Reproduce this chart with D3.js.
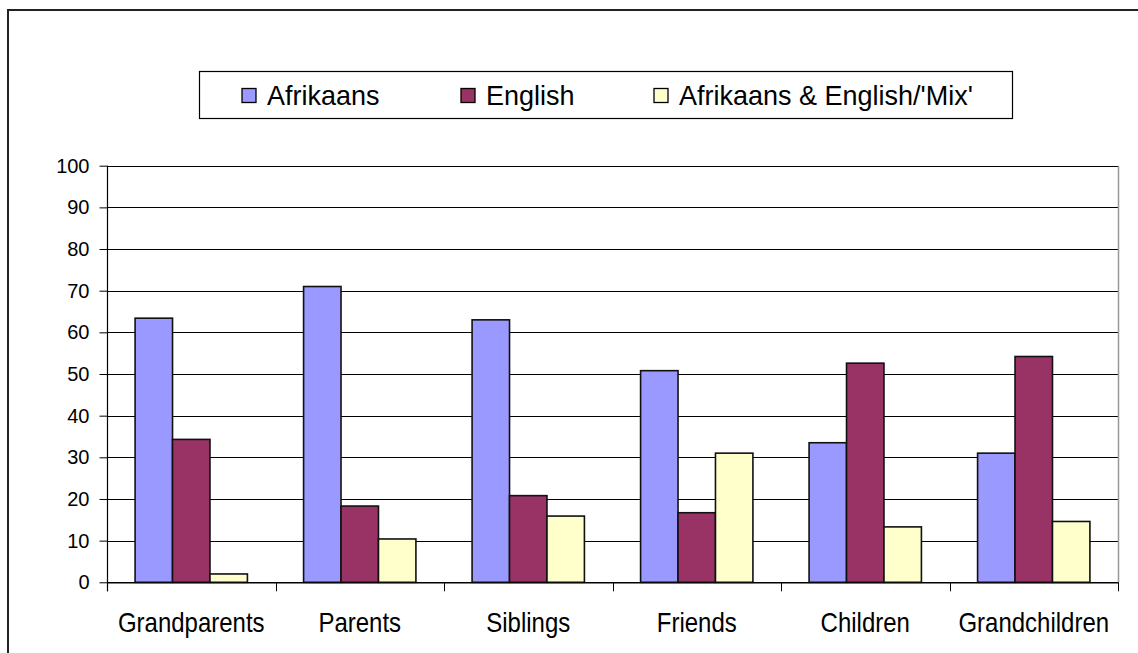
<!DOCTYPE html>
<html>
<head>
<meta charset="utf-8">
<script src="https://cdn.jsdelivr.net/npm/d3@7"></script>
<style>
  html, body { margin: 0; padding: 0; background: #fff; }
  svg { display: block; font-family: "Liberation Sans", Arial, sans-serif; }
</style>
</head>
<body>
<svg id="chart" width="1138" height="653"></svg>
<script>
const categories = ["Grandparents", "Parents", "Siblings", "Friends", "Children", "Grandchildren"];
const seriesNames = ["Afrikaans", "English", "Afrikaans & English/'Mix'"];
const afrikaans = [63.4, 71.0, 63.0, 50.8, 33.5, 31.0];
const english = [34.3, 18.3, 20.8, 16.7, 52.6, 54.2];
const mix = [2.0, 10.4, 15.9, 31.0, 13.3, 14.6];
const yTicks = [0, 10, 20, 30, 40, 50, 60, 70, 80, 90, 100];
const colors = ["#9999FF", "#993366", "#FFFFCC"];

const seriesValues = [afrikaans, english, mix];

const svg = d3.select("#chart");
const plot = { left: 107, right: 1118, top: 165.7, bottom: 582.3 };

// outer chart border
svg.append("rect")
  .attr("x", 8).attr("y", 10)
  .attr("width", 1200).attr("height", 700)
  .attr("fill", "#fff").attr("stroke", "#222").attr("stroke-width", 2);

const x0 = d3.scaleBand().domain(categories).range([plot.left, plot.right]).paddingInner(0).paddingOuter(0);
const bw = x0.bandwidth();
const gap = bw * 1.5 / 4.5;
const x1 = d3.scaleBand().domain(seriesNames).range([gap / 2, bw - gap / 2]);
const y = d3.scaleLinear().domain([0, 100]).range([plot.bottom, plot.top]);

// gridlines
svg.append("g")
  .selectAll("line")
  .data(yTicks)
  .join("line")
  .attr("x1", plot.left).attr("x2", plot.right)
  .attr("y1", d => Math.round(y(d)) + 0.5).attr("y2", d => Math.round(y(d)) + 0.5)
  .attr("stroke", "#000").attr("stroke-width", 1);

// right plot border
svg.append("line")
  .attr("x1", plot.right + 0.5).attr("x2", plot.right + 0.5)
  .attr("y1", plot.top).attr("y2", plot.bottom)
  .attr("stroke", "#999").attr("stroke-width", 1.5);

// bars
const groups = svg.append("g").selectAll("g")
  .data(categories)
  .join("g")
  .attr("transform", c => `translate(${x0(c)},0)`);

groups.selectAll("rect")
  .data((c, i) => seriesNames.map((s, k) => ({ s, k, v: seriesValues[k][i] })))
  .join("rect")
  .attr("x", d => x1(d.s))
  .attr("width", x1.bandwidth())
  .attr("y", d => y(d.v))
  .attr("height", d => y(0) - y(d.v))
  .attr("fill", d => colors[d.k])
  .attr("stroke", "#111")
  .attr("stroke-width", 1.6);

// y axis
const yAxis = d3.axisLeft(y).tickValues(yTicks).tickSize(8).tickPadding(10).tickSizeOuter(0);
const gy = svg.append("g").attr("transform", `translate(${plot.left + 0.5},0)`).call(yAxis);
gy.select(".domain").attr("stroke", "#000").attr("stroke-width", 1.2)
  .attr("d", `M0,${plot.top}V${plot.bottom + 9}`);
gy.selectAll(".tick line").attr("stroke", "#000").attr("stroke-width", 1);
gy.selectAll(".tick text").attr("font-size", 20).attr("fill", "#000")
  .attr("font-family", "'Liberation Sans', Arial, sans-serif");

// x axis line & boundary ticks
const xAxis = d3.axisBottom(x0).tickSize(0).tickFormat(() => "");
const gx = svg.append("g").attr("transform", `translate(0,${Math.round(plot.bottom) + 0.5})`).call(xAxis);
gx.select(".domain").attr("stroke", "#000").attr("stroke-width", 1.2);
const bounds = categories.map(c => x0(c)).concat([plot.right]);
svg.append("g").selectAll("line")
  .data(bounds)
  .join("line")
  .attr("x1", d => Math.round(d) + 0.5).attr("x2", d => Math.round(d) + 0.5)
  .attr("y1", plot.bottom).attr("y2", plot.bottom + 9)
  .attr("stroke", "#000").attr("stroke-width", 1);

// category labels
svg.append("g").selectAll("text")
  .data(categories)
  .join("text")
  .attr("transform", c => `translate(${x0(c) + bw / 2},632) scale(1,1.15)`)
  .attr("text-anchor", "middle")
  .attr("font-size", 24)
  .attr("fill", "#000")
  .text(c => c);

// legend
const legend = svg.append("g");
legend.append("rect")
  .attr("x", 199.5).attr("y", 71.5)
  .attr("width", 813).attr("height", 47)
  .attr("fill", "#fff").attr("stroke", "#000").attr("stroke-width", 1.2);
const legendX = [242, 461, 654];
const items = legend.selectAll("g.item")
  .data(seriesNames)
  .join("g")
  .attr("class", "item")
  .attr("transform", (d, i) => `translate(${legendX[i]},0)`);
items.append("rect")
  .attr("x", 0).attr("y", 88.5)
  .attr("width", 14).attr("height", 14)
  .attr("fill", (d, i) => colors[i])
  .attr("stroke", "#000").attr("stroke-width", 1.3);
items.append("text")
  .attr("transform", "translate(25,104.5) scale(1,1.05)")
  .attr("font-size", 27)
  .attr("fill", "#000")
  .text(d => d);
</script>
</body>
</html>
